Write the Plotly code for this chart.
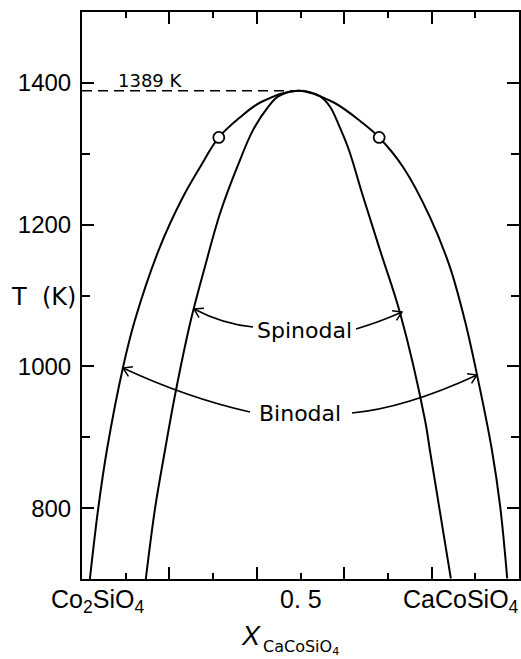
import math
import plotly.graph_objects as go

# ---- data ----
binodal_x = [0.018, 0.037, 0.057, 0.094, 0.121, 0.178, 0.231, 0.270, 0.313, 0.359, 0.410, 0.495,
             0.574, 0.643, 0.680, 0.735, 0.796, 0.842, 0.876, 0.904, 0.938, 0.957, 0.973]
binodal_T = [700, 799, 882, 999, 1065, 1168, 1239, 1281, 1323, 1350, 1373, 1389,
             1373, 1343, 1323, 1281, 1211, 1140, 1065, 988, 882, 802, 701]

spinodal_x = [0.146, 0.167, 0.190, 0.213, 0.249, 0.281, 0.316, 0.355, 0.391, 0.426, 0.449, 0.495,
              0.545, 0.568, 0.588, 0.611, 0.641, 0.682, 0.728, 0.785, 0.796, 0.844]
spinodal_T = [700, 799, 882, 960, 1065, 1140, 1216, 1281, 1333, 1366, 1381, 1389,
              1381, 1366, 1340, 1305, 1244, 1164, 1075, 924, 882, 701]

circle_x = [0.313, 0.680]
circle_T = [1323, 1323]

critical_x = 0.495
critical_T = 1389

y_tickvals = [800, 1000, 1200, 1400]
y_ticktext = ["800", "1000", "1200", "1400"]
x_major_ticks = [0.2, 0.4, 0.6, 0.8]
x_label_text = ["Co<sub>2</sub>SiO<sub>4</sub>", "0. 5", "CaCoSiO<sub>4</sub>"]

XR = [0, 1]
YR = [700, 1500]
W, H = 521, 659
ML, MR, MT, MB = 82, 2, 12, 80
PW, PH = W - ML - MR, H - MT - MB

FONT = "Liberation Sans"
LFONT = "DejaVu Sans"

fig = go.Figure()

fig.add_trace(go.Scatter(x=binodal_x, y=binodal_T, mode="lines",
                         line=dict(color="black", width=2, shape="spline", smoothing=1.0),
                         showlegend=False, hoverinfo="skip"))
fig.add_trace(go.Scatter(x=spinodal_x, y=spinodal_T, mode="lines",
                         line=dict(color="black", width=2, shape="spline", smoothing=1.0),
                         showlegend=False, hoverinfo="skip"))
fig.add_trace(go.Scatter(x=[0, critical_x], y=[critical_T, critical_T], mode="lines",
                         line=dict(color="black", width=1.5, dash="10px,6px"),
                         showlegend=False, hoverinfo="skip"))
fig.add_trace(go.Scatter(x=circle_x, y=circle_T, mode="markers",
                         marker=dict(size=11, color="white", line=dict(color="black", width=1.8)),
                         showlegend=False, hoverinfo="skip"))


def px2d(px, py):
    return ((px - ML) / PW * (XR[1] - XR[0]) + XR[0],
            YR[1] - (py - MT) / PH * (YR[1] - YR[0]))


def pxx(px):
    return (px - ML) / PW


def pxy(py):
    return (H - MB - py) / PH


shapes = []


def leader(start, mid, end):
    cx = 2 * mid[0] - (start[0] + end[0]) / 2
    cy = 2 * mid[1] - (start[1] + end[1]) / 2
    s = px2d(*start); c = px2d(cx, cy); e = px2d(*end)
    shapes.append(dict(type="path", xref="x", yref="y",
                       path=f"M {s[0]},{s[1]} Q {c[0]},{c[1]} {e[0]},{e[1]}",
                       line=dict(color="black", width=1.5)))
    dx, dy = end[0] - cx, end[1] - cy
    L = math.hypot(dx, dy)
    ux, uy = dx / L, dy / L
    size = 10
    ang = math.radians(32)
    pts = []
    for sgn in (1, -1):
        ca, sa = math.cos(sgn * ang), math.sin(sgn * ang)
        rx = ux * ca - uy * sa
        ry = ux * sa + uy * ca
        pts.append((end[0] - size * rx, end[1] - size * ry))
    a = px2d(*pts[0]); b = px2d(*pts[1])
    shapes.append(dict(type="path", xref="x", yref="y",
                       path=f"M {a[0]},{a[1]} L {e[0]},{e[1]} L {b[0]},{b[1]}",
                       line=dict(color="black", width=1.5)))


leader((253, 327), (223, 321), (194, 309))
leader((356, 329), (380, 321), (402, 312))
leader((250, 412), (187, 394), (123, 368))
leader((352, 413), (410, 401), (477, 375))

annotations = []
sx, sy = px2d(304, 330)
annotations.append(dict(x=sx, y=sy, xref="x", yref="y", text="Spinodal", showarrow=False,
                        font=dict(family=LFONT, size=22, color="black")))
bx, by = px2d(300, 413)
annotations.append(dict(x=bx, y=by, xref="x", yref="y", text="Binodal", showarrow=False,
                        font=dict(family=LFONT, size=22, color="black")))
kx, ky = px2d(116, 80)
annotations.append(dict(x=kx, y=ky, xref="x", yref="y", text="1389 K", showarrow=False,
                        xanchor="left", yanchor="middle",
                        font=dict(family=LFONT, size=18, color="black")))
# x tick labels (ends and middle)
annotations.append(dict(x=pxx(97), y=0, xref="paper", yref="paper", text=x_label_text[0],
                        showarrow=False, xanchor="center", yanchor="top", yshift=-4,
                        font=dict(family=FONT, size=25, color="black")))
annotations.append(dict(x=0.5, y=0, xref="x", yref="paper", text=x_label_text[1],
                        showarrow=False, xanchor="center", yanchor="top", yshift=-4,
                        font=dict(family=FONT, size=25, color="black")))
annotations.append(dict(x=pxx(521), y=0, xref="paper", yref="paper", text=x_label_text[2],
                        showarrow=False, xanchor="right", yanchor="top", yshift=-4,
                        font=dict(family=FONT, size=25, color="black")))
# axis titles
annotations.append(dict(x=pxx(43), y=pxy(297), xref="paper", yref="paper",
                        text="T\u00a0\u00a0(K)",
                        showarrow=False, xanchor="center", yanchor="middle",
                        font=dict(family=LFONT, size=24, color="black")))
annotations.append(dict(x=pxx(251), y=pxy(636), xref="paper", yref="paper",
                        text="<i>X</i>", showarrow=False, xanchor="center", yanchor="middle",
                        font=dict(family=FONT, size=27, color="black")))
annotations.append(dict(x=pxx(261), y=pxy(647), xref="paper", yref="paper",
                        text="CaCoSiO<sub>4</sub>", showarrow=False, xanchor="left", yanchor="middle",
                        font=dict(family=LFONT, size=16, color="black")))

fig.update_layout(
    width=W, height=H,
    margin=dict(l=ML, r=MR, t=MT, b=MB, autoexpand=False),
    paper_bgcolor="white", plot_bgcolor="white",
    shapes=shapes, annotations=annotations,
    xaxis=dict(range=XR, showgrid=False, zeroline=False, showline=True, linecolor="black",
               linewidth=2, mirror="ticks", ticks="inside", tickvals=x_major_ticks, ticklen=12,
               tickwidth=1.5, tickcolor="black", showticklabels=False, automargin=False,
               minor=dict(dtick=0.1, tick0=0, ticks="inside", ticklen=6, tickwidth=1.5,
                          tickcolor="black")),
    yaxis=dict(range=YR, showgrid=False, zeroline=False, showline=True, linecolor="black",
               linewidth=2, mirror="ticks", ticks="inside", tickvals=y_tickvals,
               ticktext=y_ticktext, ticklen=12, tickwidth=1.5, tickcolor="black",
               automargin=False, ticklabelstandoff=4,
               tickfont=dict(family=FONT, size=24, color="black"),
               minor=dict(dtick=100, tick0=0, ticks="inside", ticklen=8, tickwidth=1.5,
                          tickcolor="black")),
)

fig.write_html("out.html", config={"displayModeBar": False},
               post_script="document.body.style.margin='0';document.body.style.overflow='hidden';")
